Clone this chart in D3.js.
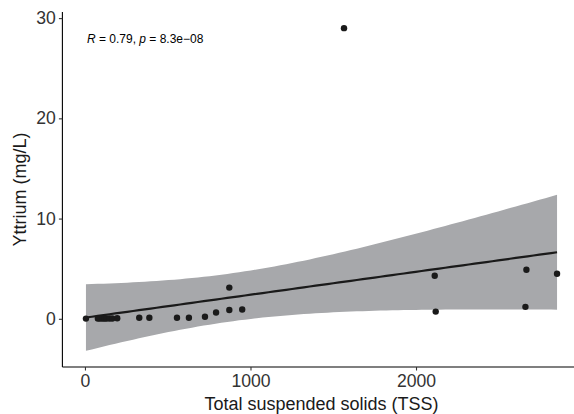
<!DOCTYPE html>
<html>
<head>
<meta charset="utf-8">
<script src="https://cdn.jsdelivr.net/npm/d3@7"></script>
<style>
  html, body { margin: 0; padding: 0; background: #fff; }
  svg { display: block; font-family: "Liberation Sans", Arial, Helvetica, sans-serif; }
</style>
</head>
<body>
<svg id="chart" width="574" height="414"></svg>
<script>
// Data (TSS vs Yttrium mg/L)
const tss = [6, 78, 90, 105, 118, 130, 148, 165, 195, 328, 389, 556, 628, 725, 792, 872, 872, 950, 1565, 2113, 2119, 2661, 2667, 2852];
const yttrium = [0.02, 0.03, 0.03, 0.03, 0.03, 0.03, 0.03, 0.03, 0.06, 0.1, 0.1, 0.1, 0.1, 0.2, 0.63, 3.11, 0.87, 0.92, 29.0, 4.30, 0.72, 1.19, 4.90, 4.50];
const xTicks = [0, 1000, 2000];
const yTicks = [0, 10, 20, 30];
const xLabel = "Total suspended solids (TSS)";
const yLabel = "Yttrium (mg/L)";
const statLabel = { R: "0.79", p: "8.3e\u221208" };

(function () {
// --- linear model with 95% confidence band (as geom_smooth(method = "lm")) ---
const n = tss.length;
const mx = d3.mean(tss), my = d3.mean(yttrium);
let sxx = 0, sxy = 0;
for (let i = 0; i < n; i++) { sxx += (tss[i] - mx) ** 2; sxy += (tss[i] - mx) * (yttrium[i] - my); }
const slope = sxy / sxx, intercept = my - slope * mx;
let ssr = 0;
for (let i = 0; i < n; i++) ssr += (yttrium[i] - (intercept + slope * tss[i])) ** 2;
const df = n - 2, s = Math.sqrt(ssr / df);

// t quantile (0.975) by numeric integration of the t density
function lgamma(z) {
  const g = 7, c = [0.99999999999980993, 676.5203681218851, -1259.1392167224028, 771.32342877765313,
    -176.61502916214059, 12.507343278686905, -0.13857109526572012, 9.9843695780195716e-6, 1.5056327351493116e-7];
  z -= 1; let v = c[0];
  for (let i = 1; i < g + 2; i++) v += c[i] / (z + i);
  const t = z + g + 0.5;
  return 0.5 * Math.log(2 * Math.PI) + (z + 0.5) * Math.log(t) - t + Math.log(v);
}
function tpdf(t, v) { return Math.exp(lgamma((v + 1) / 2) - lgamma(v / 2)) / Math.sqrt(v * Math.PI) * Math.pow(1 + t * t / v, -(v + 1) / 2); }
function tcdfFromZero(t, v) { const m = 400, h = t / m; let sum = tpdf(0, v) + tpdf(t, v); for (let i = 1; i < m; i++) sum += (i % 2 ? 4 : 2) * tpdf(i * h, v); return sum * h / 3; }
let lo = 0, hi = 10;
for (let k = 0; k < 60; k++) { const mid = (lo + hi) / 2; if (tcdfFromZero(mid, df) < 0.475) lo = mid; else hi = mid; }
const tq = (lo + hi) / 2;

const xs = d3.range(0, 81).map(i => d3.min(tss) + (d3.max(tss) - d3.min(tss)) * i / 80);
const band = xs.map(xv => {
  const fit = intercept + slope * xv;
  const se = s * Math.sqrt(1 / n + (xv - mx) ** 2 / sxx);
  return { x: xv, fit, lower: fit - tq * se, upper: fit + tq * se };
});

// --- scales (ggplot-like 5% expansion) ---
const xMin = d3.min(tss), xMax = d3.max(tss), xr = xMax - xMin;
const yMin = Math.min(d3.min(yttrium), d3.min(band, d => d.lower));
const yMax = Math.max(d3.max(yttrium), d3.max(band, d => d.upper));
const yr = yMax - yMin;

const pLeft = 62.4, pRight = 580.6, pTop = 12, pBottom = 367;
const x = d3.scaleLinear().domain([xMin - 0.05 * xr, xMax + 0.05 * xr]).range([pLeft, pRight]);
const y = d3.scaleLinear().domain([yMin - 0.05 * yr, yMax + 0.05 * yr]).range([pBottom, pTop]);

const svg = d3.select("#chart");

// ribbon
svg.append("path")
  .datum(band)
  .attr("fill", "#a7a8ab")
  .attr("d", d3.area().x(d => x(d.x)).y0(d => y(d.lower)).y1(d => y(d.upper)));

// fit line
svg.append("path")
  .datum(band)
  .attr("fill", "none")
  .attr("stroke", "#1a1a1a")
  .attr("stroke-width", 2.2)
  .attr("d", d3.line().x(d => x(d.x)).y(d => y(d.fit)));

// points
svg.append("g").selectAll("circle")
  .data(tss.map((t, i) => ({ t, v: yttrium[i] })))
  .join("circle")
  .attr("cx", d => x(d.t))
  .attr("cy", d => y(d.v))
  .attr("r", 3.2)
  .attr("fill", "#1a1a1a");

// axes
const xAxis = svg.append("g")
  .attr("transform", `translate(0,${pBottom})`)
  .call(d3.axisBottom(x).tickValues(xTicks).tickFormat(d3.format("d")).tickSize(3.5).tickPadding(4));
const yAxis = svg.append("g")
  .attr("transform", `translate(${pLeft},0)`)
  .call(d3.axisLeft(y).tickValues(yTicks).tickFormat(d3.format("d")).tickSize(3.5).tickPadding(3));

[xAxis, yAxis].forEach(g => {
  g.select(".domain").attr("stroke", "#000").attr("stroke-width", 1.1);
  g.selectAll(".tick line").attr("stroke", "#333").attr("stroke-width", 1.1);
  g.selectAll(".tick text").attr("fill", "#333").attr("font-size", 17.6)
    .attr("font-family", "'Liberation Sans', Arial, Helvetica, sans-serif");
});
xAxis.select(".domain").attr("d", `M${pLeft},0H${pRight}`);
yAxis.select(".domain").attr("d", `M0,${pBottom}V${pTop}`);

// axis titles
svg.append("text")
  .attr("x", (pLeft + pRight) / 2)
  .attr("y", 410)
  .attr("text-anchor", "middle")
  .attr("font-size", 18)
  .attr("fill", "#1a1a1a")
  .text(xLabel);

svg.append("text")
  .attr("transform", `translate(26,${(pTop + pBottom) / 2}) rotate(-90)`)
  .attr("text-anchor", "middle")
  .attr("font-size", 18)
  .attr("fill", "#1a1a1a")
  .text(yLabel);

// correlation label
const lab = svg.append("text")
  .attr("x", x(xMin) + 1)
  .attr("y", 43)
  .attr("font-size", 12)
  .attr("fill", "#000");
lab.append("tspan").attr("font-style", "italic").text("R");
lab.append("tspan").text(" = " + statLabel.R + ", ");
lab.append("tspan").attr("font-style", "italic").text("p");
lab.append("tspan").text(" = " + statLabel.p);
})();
</script>
</body>
</html>
